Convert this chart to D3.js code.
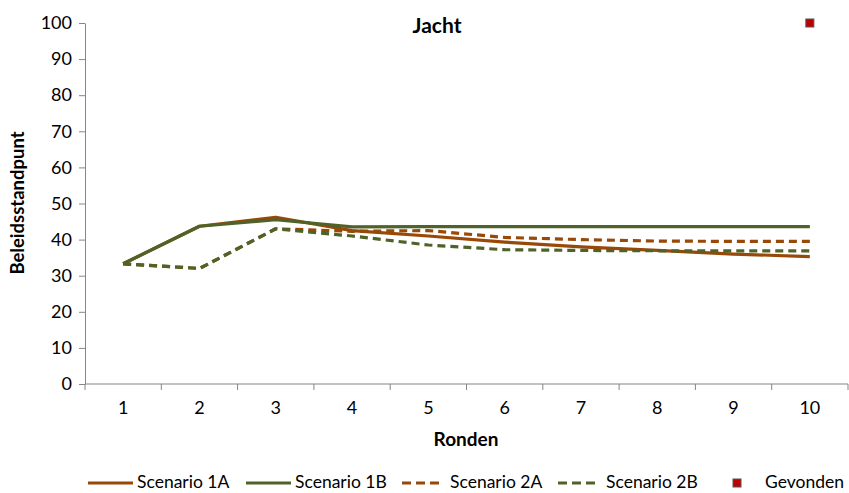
<!DOCTYPE html>
<html>
<head>
<meta charset="utf-8">
<script src="https://cdn.jsdelivr.net/npm/d3@7"></script>
<style>
  body { margin: 0; background: #fff; }
  text { font-family: Lato, "Open Sans", sans-serif; fill: #000; }
  .axis path, .axis line { stroke: #868686; }
</style>
</head>
<body>
<script>
// chart data
var rounds = [1, 2, 3, 4, 5, 6, 7, 8, 9, 10];
var yTicks = [0, 10, 20, 30, 40, 50, 60, 70, 80, 90, 100];
var scenario1A = [33.3, 43.7, 46.2, 42.5, 41.0, 39.3, 38.0, 37.0, 36.0, 35.3];
var scenario1B = [33.3, 43.7, 45.5, 43.5, 43.6, 43.6, 43.6, 43.6, 43.6, 43.6];
var scenario2A = [33.3, 32.0, 43.0, 42.3, 42.5, 40.6, 40.0, 39.6, 39.5, 39.5];
var scenario2B = [33.3, 32.0, 43.0, 41.0, 38.5, 37.2, 37.0, 36.9, 36.9, 36.9];
var gevonden   = [null, null, null, null, null, null, null, null, null, 100];

var series = [
    {"name": "Scenario 1A", "values": scenario1A, "color": "#984807", "dash": null},
    {"name": "Scenario 1B", "values": scenario1B, "color": "#4f6228", "dash": null},
    {"name": "Scenario 2A", "values": scenario2A, "color": "#984807", "dash": "8,5"},
    {"name": "Scenario 2B", "values": scenario2B, "color": "#4f6228", "dash": "8,5"}
];

var width = 849, height = 493;
var margin = {top: 23, right: 1, bottom: 109, left: 85};
var cWidth = width - margin.left - margin.right;
var cHeight = height - margin.top - margin.bottom;

var svg = d3.select("body").append("svg")
    .attr("width", width)
    .attr("height", height);

var g = svg.append("g")
    .attr("transform", "translate(" + margin.left + "," + margin.top + ")");

var x = d3.scaleBand().domain(rounds).range([0, cWidth]);
var y = d3.scaleLinear().domain([0, 100]).range([cHeight, 0]);

// y axis
var yAxis = g.append("g").attr("class", "axis")
    .call(d3.axisLeft(y).tickValues(yTicks).tickSize(6).tickSizeOuter(0).tickPadding(7));
yAxis.selectAll("text").style("font-size", "18px");

// x axis, ticks between categories
var xAxis = g.append("g").attr("class", "axis")
    .attr("transform", "translate(0," + cHeight + ")")
    .call(d3.axisBottom(x).tickSize(0).tickPadding(17));
xAxis.select(".domain").attr("d", "M0,0H" + cWidth);
xAxis.selectAll("text").style("font-size", "18px");
var bounds = rounds.map(function(r) { return x(r); }).concat([cWidth]);
xAxis.selectAll(".sep").data(bounds).enter().append("line")
    .attr("x1", function(d) { return d; }).attr("x2", function(d) { return d; })
    .attr("y1", 0).attr("y2", 6);

var line = d3.line()
    .defined(function(d) { return d != null; })
    .x(function(d, i) { return x(rounds[i]) + x.bandwidth() / 2; })
    .y(function(d) { return y(d); });

series.forEach(function(s) {
    g.append("path")
        .datum(s.values)
        .attr("fill", "none")
        .attr("stroke", s.color)
        .attr("stroke-width", 3.2)
        .attr("stroke-dasharray", s.dash)
        .attr("stroke-linejoin", "round")
        .attr("d", line);
});

// Gevonden marker
g.selectAll(".gev").data(gevonden.map(function(v, i) { return {r: rounds[i], v: v}; })
        .filter(function(d) { return d.v != null; }))
    .enter().append("rect")
    .attr("x", function(d) { return x(d.r) + x.bandwidth() / 2 - 4; })
    .attr("y", function(d) { return y(d.v) - 4; })
    .attr("width", 8).attr("height", 8)
    .attr("fill", "#c00000").attr("stroke", "#555").attr("stroke-width", 1);

// titles
svg.append("text").attr("x", 437).attr("y", 33)
    .attr("text-anchor", "middle").style("font-size", "21px").style("font-weight", "bold")
    .text("Jacht");
svg.append("text").attr("x", 466).attr("y", 446)
    .attr("text-anchor", "middle").style("font-size", "19px").style("font-weight", "bold")
    .text("Ronden");
svg.append("text").attr("transform", "translate(24," + 203 + ") rotate(-90)")
    .attr("text-anchor", "middle").style("font-size", "18.5px").style("font-weight", "bold")
    .text("Beleidsstandpunt");

// legend
var legendPos = [88, 246, 402, 558, 733];
var legendItems = series.concat([{"name": "Gevonden", "marker": true}]);
var leg = svg.append("g").attr("transform", "translate(0,483)");
legendItems.forEach(function(s, i) {
    var lx = legendPos[i];
    if (s.marker) {
        leg.append("rect").attr("x", lx).attr("y", -4).attr("width", 8).attr("height", 8)
            .attr("fill", "#c00000").attr("stroke", "#555");
        leg.append("text").attr("x", lx + 32).attr("y", 5).style("font-size", "17.5px").text(s.name);
    } else {
        leg.append("line").attr("x1", lx).attr("x2", lx + (s.dash ? 39 : 45)).attr("y1", 0).attr("y2", 0)
            .attr("stroke", s.color).attr("stroke-width", 3.2).attr("stroke-dasharray", s.dash ? "9,5" : null);
        leg.append("text").attr("x", lx + (s.dash ? 48 : 49)).attr("y", 5).style("font-size", "17.5px").text(s.name);
    }
});
</script>
</body>
</html>
